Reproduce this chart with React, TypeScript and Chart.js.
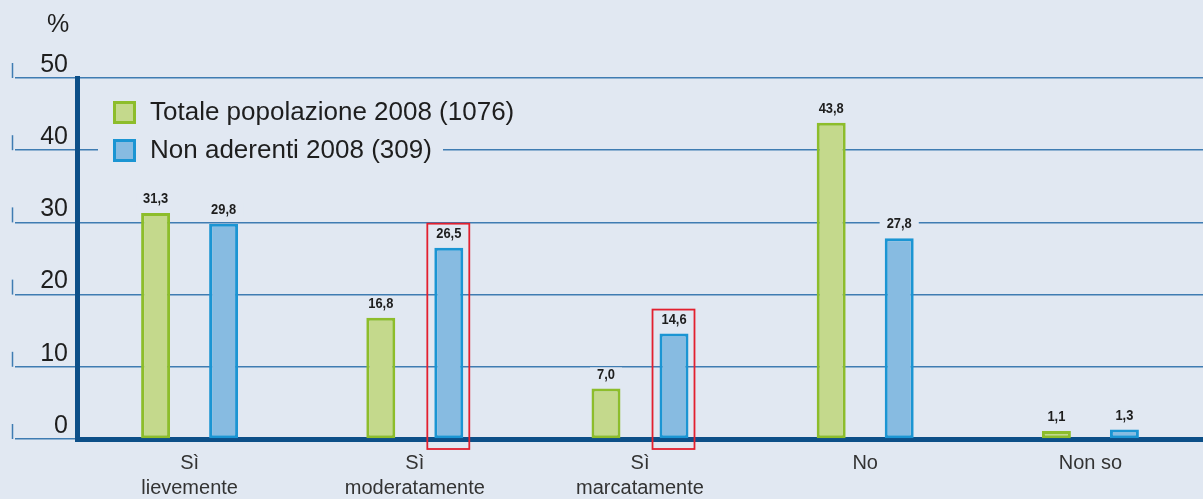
import React, { useEffect, useRef } from "react";
import { Chart, registerables } from "chart.js";

Chart.register(...registerables);

const categories: string[][] = [
  ["Sì", "lievemente"],
  ["Sì", "moderatamente"],
  ["Sì", "marcatamente"],
  ["No"],
  ["Non so"],
];
const totaleValues = [31.3, 16.8, 7.0, 43.8, 1.1];
const nonAderentiValues = [29.8, 26.5, 14.6, 27.8, 1.3];
const highlightNonAderenti = [false, true, true, false, false];
const seriesLabels = ["Totale popolazione 2008 (1076)", "Non aderenti 2008 (309)"];
const yTickValues = [0, 10, 20, 30, 40, 50];
const yUnit = "%";

const BG = "#e1e8f2";
const GRID = "#3f7cb2";
const AXIS = "#0c4f88";
const GREEN_FILL = "#c4d98c";
const GREEN_BORDER = "#8dbd2b";
const BLUE_FILL = "#87bbe1";
const BLUE_BORDER = "#1b95d3";
const TEXT = "#1e1e1e";
const MAIN_FONT = "'Liberation Sans', Arial, Helvetica, sans-serif";

const fmt = (v: number) => v.toFixed(1).replace(".", ",");

const customPlugin = {
  id: "custom",
  beforeDatasetsDraw(chart: any) {
    const ctx = chart.ctx;
    const yScale = chart.scales.y;
    ctx.save();
    // small vertical ticks and y labels
    ctx.strokeStyle = GRID;
    ctx.lineWidth = 1.5;
    ctx.fillStyle = TEXT;
    ctx.font = `25px ${MAIN_FONT}`;
    ctx.textAlign = "right";
    ctx.textBaseline = "middle";
    yTickValues.forEach((v) => {
      const py = yScale.getPixelForValue(v);
      ctx.beginPath();
      ctx.moveTo(12.5, py);
      ctx.lineTo(12.5, py - 15);
      ctx.stroke();
      ctx.fillText(String(v), 68, py - 13);
    });
    ctx.textAlign = "center";
    ctx.fillText(yUnit, 58, 25);

    // legend with background
    ctx.fillStyle = BG;
    ctx.fillRect(98, 90, 345, 80);
    const items = [
      { fill: GREEN_FILL, border: GREEN_BORDER, y: 112 },
      { fill: BLUE_FILL, border: BLUE_BORDER, y: 150 },
    ];
    items.forEach((it, i) => {
      ctx.fillStyle = it.fill;
      ctx.fillRect(113, it.y - 11, 23, 23);
      ctx.strokeStyle = it.border;
      ctx.lineWidth = 3;
      ctx.strokeRect(114.5, it.y - 9.5, 20, 20);
      ctx.fillStyle = TEXT;
      ctx.font = `26px ${MAIN_FONT}`;
      ctx.textAlign = "left";
      ctx.textBaseline = "middle";
      ctx.fillText(chart.data.datasets[i].label, 150, it.y + 1);
    });

    // value labels with background
    const SX = 0.86;
    chart.data.datasets.forEach((ds: any, di: number) => {
      const meta = chart.getDatasetMeta(di);
      meta.data.forEach((bar: any, i: number) => {
        const text = fmt(ds.data[i]);
        ctx.font = `bold 15px ${MAIN_FONT}`;
        const w = ctx.measureText(text).width * SX;
        const cy = bar.y - 14;
        ctx.fillStyle = BG;
        ctx.fillRect(bar.x - w / 2 - 7, cy - 7, w + 14, 14);
        ctx.save();
        ctx.translate(bar.x, cy);
        ctx.scale(SX, 1);
        ctx.fillStyle = TEXT;
        ctx.textAlign = "center";
        ctx.textBaseline = "middle";
        ctx.fillText(text, 0, 0);
        ctx.restore();
      });
    });
    ctx.restore();
  },
  afterDraw(chart: any) {
    const ctx = chart.ctx;
    const meta = chart.getDatasetMeta(1);
    const base = chart.scales.y.getPixelForValue(0);
    ctx.save();
    ctx.strokeStyle = "#e2202f";
    ctx.lineWidth = 1.8;
    meta.data.forEach((bar: any, i: number) => {
      if (!highlightNonAderenti[i]) return;
      const left = bar.x - bar.width / 2 - 7;
      const right = bar.x + bar.width / 2 + 6;
      const top = bar.y - 24;
      const bottom = base + 10;
      ctx.strokeRect(left, top, right - left, bottom - top);
    });
    ctx.restore();
  },
};

export default function App() {
  const canvasRef = useRef<HTMLCanvasElement | null>(null);

  useEffect(() => {
    document.body.style.margin = "0";
    const canvas = canvasRef.current;
    if (!canvas) return;
    const chart = new Chart(canvas, {
      type: "bar",
      data: {
        labels: categories,
        datasets: [
          {
            label: seriesLabels[0],
            data: totaleValues,
            backgroundColor: GREEN_FILL,
            borderColor: GREEN_BORDER,
            borderWidth: 3,
            borderSkipped: false,
          },
          {
            label: seriesLabels[1],
            data: nonAderentiValues,
            backgroundColor: BLUE_FILL,
            borderColor: BLUE_BORDER,
            borderWidth: 3,
            borderSkipped: false,
          },
        ],
      },
      options: {
        animation: false,
        responsive: true,
        maintainAspectRatio: false,
        layout: { padding: { top: 78, left: 0, right: 0, bottom: 0 } },
        plugins: {
          legend: { display: false },
          tooltip: { enabled: false },
        },
        datasets: {
          bar: { categoryPercentage: 0.604, barPercentage: 0.426 },
        },
        scales: {
          x: {
            z: 1,
            grid: { display: false, drawTicks: false },
            border: { display: true, color: AXIS, width: 5 },
            ticks: {
              color: "#333333",
              font: { family: MAIN_FONT, size: 20, lineHeight: 1.25 },
              padding: 12,
              maxRotation: 0,
              autoSkip: false,
            },
            afterFit: (scale: any) => {
              scale.height = 60;
            },
          },
          y: {
            min: 0,
            max: 50,
            ticks: { display: false, stepSize: 10 },
            grid: {
              color: GRID,
              lineWidth: 1.5,
              drawTicks: true,
              tickLength: 62,
              tickColor: GRID,
              tickWidth: 1.5,
            },
            border: { display: true, color: AXIS, width: 5 },
            afterFit: (scale: any) => {
              scale.width = 77;
            },
          },
        },
      },
      plugins: [customPlugin],
    });
    return () => chart.destroy();
  }, []);

  return (
    <div style={{ width: 1203, height: 499, background: BG, position: "relative" }}>
      <canvas ref={canvasRef} />
    </div>
  );
}
